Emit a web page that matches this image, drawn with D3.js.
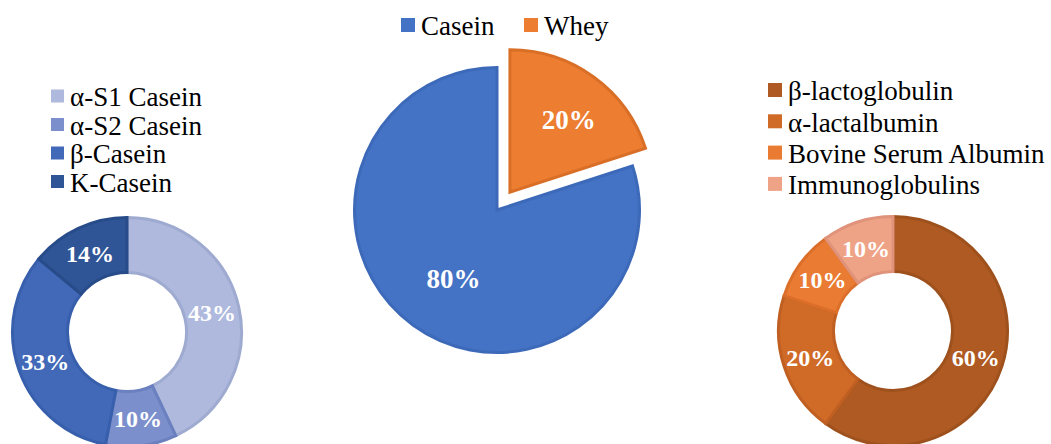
<!DOCTYPE html>
<html><head><meta charset="utf-8">
<script src="https://cdn.jsdelivr.net/npm/d3@7"></script>
<style>body{margin:0;background:#fff}svg{display:block}text{font-family:"Liberation Serif","Times New Roman",serif}</style>
</head><body>
<svg id="c" width="1051" height="444"></svg>
<script>
const mainCats = ["Casein", "Whey"];
const mainVals = [80, 20];
const mainColors = ["#4472C4", "#ED7D31"];
const mainStroke = ["#3D69B9", "#D96F27"];

const caseinCats = ["α-S1 Casein", "α-S2 Casein", "β-Casein", "K-Casein"];
const caseinVals = [43, 10, 33, 14];
const caseinColors = ["#AEB9DD", "#7A8FCB", "#4169B8", "#2F5597"];
const caseinStroke = ["#9EAAD0", "#6A80BF", "#375FAC", "#284B89"];

const wheyCats = ["β-lactoglobulin", "α-lactalbumin", "Bovine Serum Albumin", "Immunoglobulins"];
const wheyVals = [60, 20, 10, 10];
const wheyColors = ["#AE5A22", "#D06A27", "#EA7B32", "#EFA386"];
const wheyStroke = ["#9E511D", "#BF5F22", "#DB6F2A", "#E0937A"];

const svg = d3.select("#c");
const pie = d3.pie().sort(null).value(d => d);

function donut(cx, cy, R, r, vals, colors, strokes, labelR) {
  const g = svg.append("g").attr("transform", `translate(${cx},${cy})`);
  const arcs = pie(vals);
  const arc = d3.arc().innerRadius(r + 1.5).outerRadius(R - 1.5);
  g.selectAll("path").data(arcs).join("path")
    .attr("d", arc).attr("fill", (d, i) => colors[i])
    .attr("stroke", (d, i) => strokes[i]).attr("stroke-width", 3).attr("stroke-linejoin", "miter");
  const la = d3.arc().innerRadius(labelR).outerRadius(labelR);
  g.selectAll("text").data(arcs).join("text")
    .attr("transform", d => `translate(${la.centroid(d)})`)
    .attr("text-anchor", "middle").attr("dy", "0.35em")
    .attr("fill", "#fff").attr("font-weight", "bold").attr("font-size", 24)
    .text(d => d.data + "%");
}

function legendV(x, y, step, cats, colors, fs, sq, gap) {
  const g = svg.append("g");
  cats.forEach((c, i) => {
    g.append("rect").attr("x", x).attr("y", y + i * step - sq / 2).attr("width", sq).attr("height", sq).attr("fill", colors[i]);
    g.append("text").attr("x", x + sq + gap).attr("y", y + i * step + 1).attr("dy", "0.35em")
      .attr("font-size", fs).attr("fill", "#000").text(c);
  });
}

// Left donut (casein fractions)
donut(127, 332, 116, 58, caseinVals, caseinColors, caseinStroke, 87);
legendV(51, 96, 28.5, caseinCats, caseinColors, 27, 13, 6);

// Right donut (whey fractions)
donut(893, 331, 116, 58, wheyVals, wheyColors, wheyStroke, 87);
legendV(768, 90, 31.3, wheyCats, wheyColors, 27, 14, 6);

// Middle pie
(function () {
  const cx = 497, cy = 210, R = 144, explode = 22;
  const arc = d3.arc().innerRadius(0).outerRadius(R - 1.5);
  const g = svg.append("g").attr("transform", `translate(${cx},${cy})`);
  const off = d => {
    if (d.index !== 1) return [0, 0];
    const m = (d.startAngle + d.endAngle) / 2;
    return [Math.sin(m) * explode, -Math.cos(m) * explode];
  };
  const pie2 = d3.pie().sort(null).value(d => d).startAngle(2 * Math.PI * 0.2).endAngle(2 * Math.PI * 1.2);
  const arcs2 = pie2(mainVals);
  arcs2.forEach(d => { d.o = off(d); });
  g.selectAll("path").data(arcs2).join("path")
    .attr("transform", d => `translate(${d.o})`)
    .attr("d", arc).attr("fill", (d, i) => mainColors[i])
    .attr("stroke", (d, i) => mainStroke[i]).attr("stroke-width", 3).attr("stroke-linejoin", "miter");
  const la = d3.arc().innerRadius(R * 0.55).outerRadius(R * 0.55);
  const la2 = d3.arc().innerRadius(R * 0.66).outerRadius(R * 0.66);
  g.selectAll("text").data(arcs2).join("text")
    .attr("transform", d => { const c = (d.index === 1 ? la2 : la).centroid(d); return `translate(${c[0] + d.o[0] + 3},${c[1] + d.o[1] + 4})`; })
    .attr("text-anchor", "middle").attr("dy", "0.35em")
    .attr("fill", "#fff").attr("font-weight", "bold").attr("font-size", 27)
    .text(d => d.data + "%");

  // horizontal legend
  const lg = svg.append("g");
  const xs = [401, 524];
  mainCats.forEach((c, i) => {
    lg.append("rect").attr("x", xs[i]).attr("y", 18).attr("width", 14).attr("height", 14).attr("fill", mainColors[i]);
    lg.append("text").attr("x", xs[i] + 20).attr("y", 26).attr("dy", "0.35em").attr("font-size", 27).attr("fill", "#000").text(c);
  });
})();
</script>
</body></html>
